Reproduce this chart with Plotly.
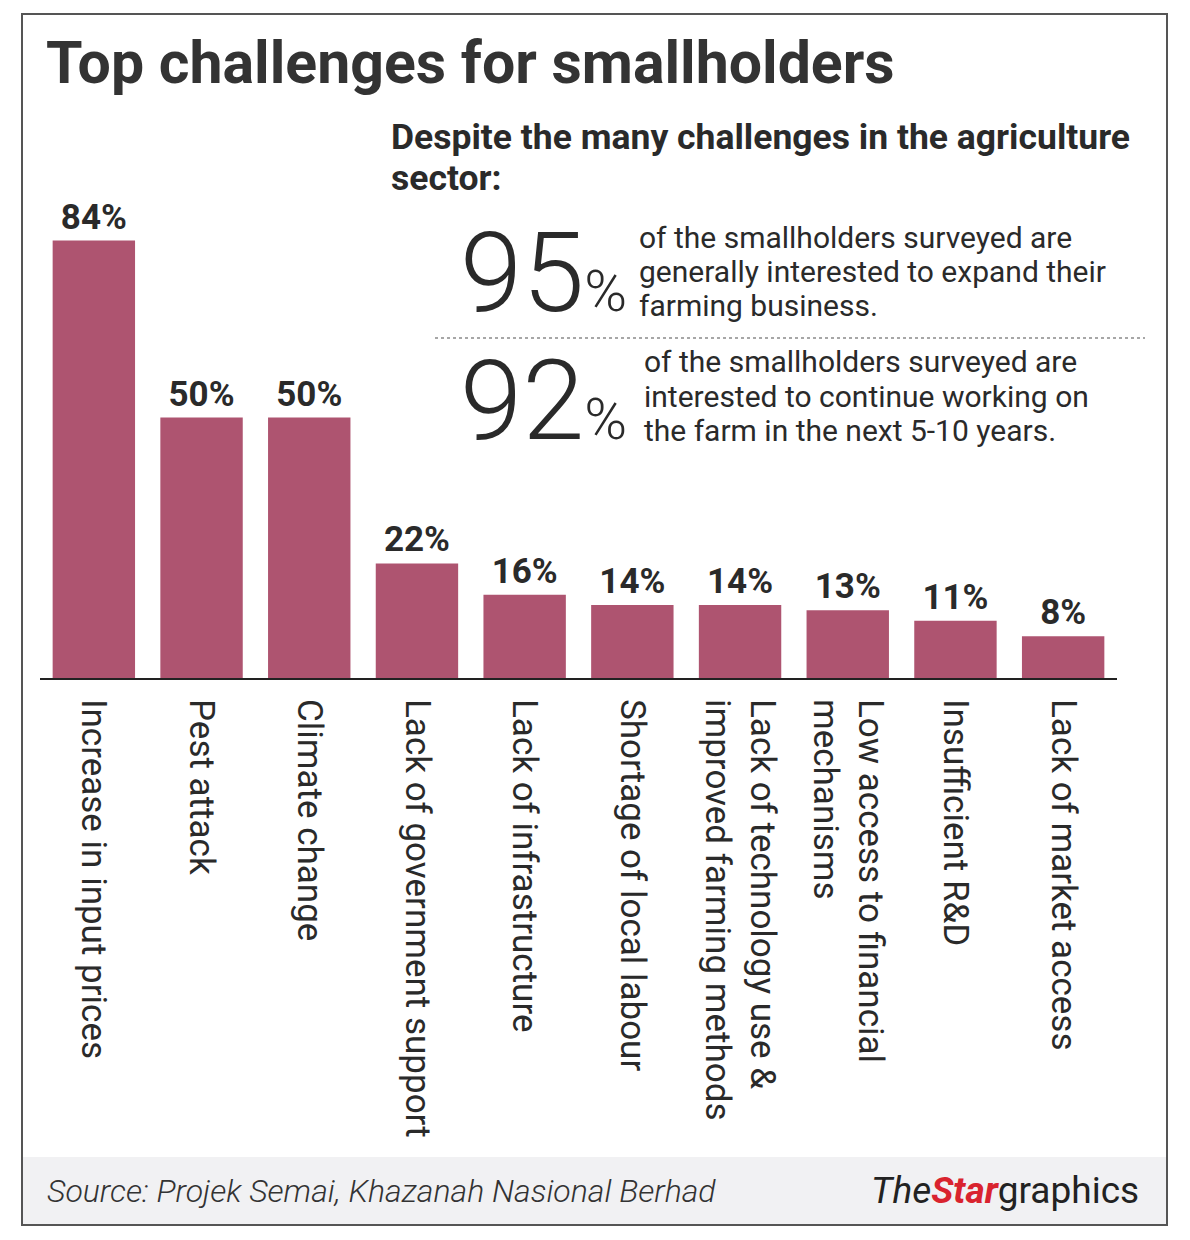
import plotly.graph_objects as go

# data
categories = [
    "Increase in input prices",
    "Pest attack",
    "Climate change",
    "Lack of government support",
    "Lack of infrastructure",
    "Shortage of local labour",
    "Lack of technology use &<br>improved farming methods",
    "Low access to financial<br>mechanisms",
    "Insufficient R&D",
    "Lack of market access",
]
shares = [84, 50, 50, 22, 16, 14, 14, 13, 11, 8]

big_numbers = ["95", "92"]
big_notes = [
    ["of the smallholders surveyed are",
     "generally interested to expand their",
     "farming business."],
    ["of the smallholders surveyed are",
     "interested to continue working on",
     "the farm in the next 5-10 years."],
]

W, H = 1190, 1240
BAR = "#ae5470"
INK = "#2a2a2a"
OFF = 8  # page body margin


def px(x):
    return (x - OFF) / W


def py(y):
    return 1 - (y - OFF) / H


fig = go.Figure()
fig.add_trace(go.Bar(
    x=list(range(len(categories))),
    y=shares,
    marker=dict(color=BAR, line=dict(width=0)),
    texttemplate="<b>%{y}%</b>",
    textposition="outside",
    textfont=dict(family="Roboto", size=35, color=INK),
    cliponaxis=False,
    hoverinfo="skip",
))

fig.update_xaxes(
    domain=[px(40), px(1117)],
    range=[-0.5, len(categories) - 0.5],
    tickvals=list(range(len(categories))),
    ticktext=categories,
    tickangle=90,
    tickfont=dict(family="Roboto", size=35, color=INK),
    ticklabelstandoff=12,
    showline=True, linecolor="#222", linewidth=2,
    showgrid=False, zeroline=False, ticks="",
)
fig.update_yaxes(
    domain=[py(678), py(190)],
    range=[0, 93.7],
    visible=False,
)

# frame, footer band, divider
shapes = [
    dict(type="rect", xref="paper", yref="paper",
         x0=px(22), x1=px(1167), y0=py(1157), y1=py(1225),
         fillcolor="#f1f1f3", line=dict(width=0), layer="below"),
    dict(type="rect", xref="paper", yref="paper",
         x0=px(22), x1=px(1167), y0=py(1225), y1=py(14),
         line=dict(color="#555", width=2)),
    dict(type="line", xref="paper", yref="paper",
         x0=px(435), x1=px(1145), y0=py(338), y1=py(338),
         line=dict(color="#8a8a8a", width=1.5, dash="dot")),
]

ann = [
    dict(text="<b>Top challenges for smallholders</b>", x=px(44), y=py(62),
         xanchor="left", yanchor="middle",
         font=dict(family="Roboto", size=59, color="#333")),
    dict(text="<b>Despite the many challenges in the agriculture</b>",
         x=px(389), y=py(137), xanchor="left", yanchor="middle",
         font=dict(family="Roboto", size=35.5, color=INK)),
    dict(text="<b>sector:</b>",
         x=px(389), y=py(178), xanchor="left", yanchor="middle",
         font=dict(family="Roboto", size=35.5, color=INK)),
    dict(text="Source: Projek Semai, Khazanah Nasional Berhad", x=px(45), y=py(1191),
         xanchor="left", yanchor="middle",
         font=dict(family="Roboto", size=32, color="#333", style="italic", weight=300)),
    dict(text="<i>The</i><span style='color:#d9232e'><b><i>Star</i></b></span>graphics",
         x=px(1141), y=py(1190), xanchor="right", yanchor="middle",
         font=dict(family="Roboto", size=37, color="#222")),
]

num_y = [272, 400]
note_x = [637, 642]
note_y = [[237, 271, 305], [362, 396, 430]]
for i, num in enumerate(big_numbers):
    ann.append(dict(
        text=num + "<span style='font-size:58px'>%</span>",
        x=px(458), y=py(num_y[i]), xanchor="left", yanchor="middle",
        font=dict(family="Roboto", size=112, color=INK, weight=300)))
    for j, line in enumerate(big_notes[i]):
        ann.append(dict(
            text=line, x=px(note_x[i]), y=py(note_y[i][j]),
            xanchor="left", yanchor="middle",
            font=dict(family="Roboto", size=30, color=INK)))

for a in ann:
    a.update(xref="paper", yref="paper", showarrow=False)

fig.update_layout(
    width=W, height=H,
    margin=dict(l=0, r=0, t=0, b=0),
    paper_bgcolor="white", plot_bgcolor="white",
    showlegend=False,
    bargap=0.235,
    shapes=shapes,
    annotations=ann,
)

fig.write_html("out.html")
